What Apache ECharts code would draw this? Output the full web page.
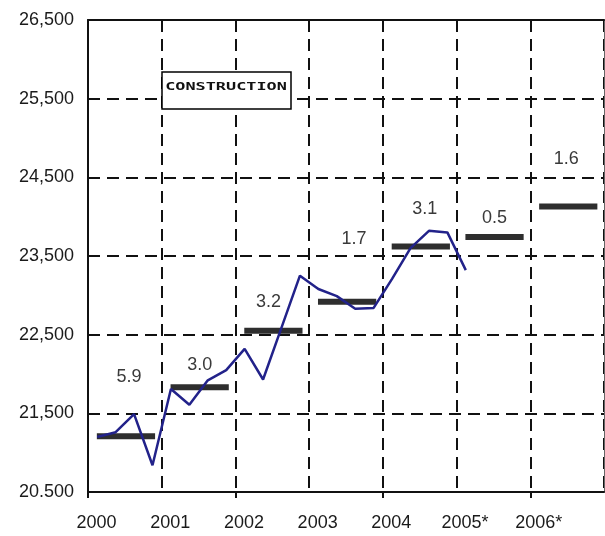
<!DOCTYPE html>
<html>
<head>
<meta charset="utf-8">
<script src="https://cdn.jsdelivr.net/npm/echarts@6/dist/echarts.min.js"></script>
<style>
  html, body { margin: 0; padding: 0; background: #fff; }
  #chart { width: 605px; height: 536px; }
</style>
</head>
<body>
<div id="chart"></div>
<script>
// Year labels along the bottom axis (2005, 2006 are forecasts)
const firstYear = 2000;
const yearLabels = ['2000', '2001', '2002', '2003', '2004', '2005*', '2006*'];

// Value axis ticks and their printed labels
const valueTicks = [20500, 21500, 22500, 23500, 24500, 25500, 26500];
const valueTickLabels = ['20.500', '21,500', '22,500', '23,500', '24,500', '25,500', '26,500'];

// Quarterly construction output, 2000 Q1 to 2005 Q1
const quarterlyValues = [
  21200, 21260, 21490, 20840,
  21810, 21610, 21920, 22050,
  22320, 21930, 22590, 23250,
  23080, 22990, 22830, 22840,
  23210, 23600, 23820, 23800,
  23320
];

// Annual averages, 2000 to 2006
const annualValues = [21210, 21830, 22550, 22920, 23620, 23740, 24130];

// Annual growth, %
const growthLabels = ['5.9', '3.0', '3.2', '1.7', '3.1', '0.5', '1.6'];

// Where each growth figure sits, in px from the middle of its annual bar
const growthLabelOffsets = [[3, -59], [0, -22], [-5, -29], [7, -63], [4, -38], [0, -19], [-2, -47]];

const INK = '#111';
const FONT = '"Liberation Sans", Arial, sans-serif';
const dashed = { color: INK, width: 2, type: [12, 7] };

const chart = echarts.init(document.getElementById('chart'), null, { renderer: 'canvas' });

chart.setOption({
  animation: false,
  backgroundColor: '#fff',
  grid: { left: 88, right: 1, top: 20, bottom: 44, outerBoundsMode: 'none' },
  xAxis: [
    {
      type: 'value', min: firstYear, max: firstYear + yearLabels.length, interval: 1,
      position: 'bottom',
      axisLine: { show: true, onZero: false, lineStyle: { color: INK, width: 2 } },
      axisTick: { show: false },
      axisLabel: {
        formatter: v => yearLabels[Math.round(v - firstYear)] || '',
        showMaxLabel: false,
        fontFamily: FONT, fontSize: 18, color: '#1a1a1a',
        margin: 22, padding: [0, 0, 0, 17]
      },
      splitLine: { show: true, lineStyle: dashed }
    },
    {
      // tick marks every second year below the axis
      type: 'value', min: firstYear, max: firstYear + yearLabels.length,
      position: 'bottom',
      axisLine: { show: false },
      axisLabel: { show: false },
      splitLine: { show: false },
      axisTick: {
        show: true, inside: false, length: 6,
        lineStyle: { color: INK, width: 2 },
        customValues: [2000, 2002, 2004, 2006]
      }
    },
    {
      type: 'value', min: firstYear, max: firstYear + yearLabels.length,
      position: 'top',
      axisLine: { show: true, onZero: false, lineStyle: { color: INK, width: 2 } },
      axisTick: { show: false }, axisLabel: { show: false }, splitLine: { show: false }
    }
  ],
  yAxis: [
    {
      type: 'value', min: valueTicks[0], max: valueTicks[valueTicks.length - 1],
      position: 'left',
      axisLine: { show: true, onZero: false, lineStyle: { color: INK, width: 2 } },
      axisTick: { show: false, customValues: valueTicks },
      axisLabel: {
        customValues: valueTicks,
        formatter: v => valueTickLabels[valueTicks.indexOf(v)] || '',
        fontFamily: FONT, fontSize: 18, color: '#1a1a1a', margin: 14,
        padding: [4, 0, 0, 0]
      },
      splitLine: { show: true, lineStyle: dashed }
    },
    {
      type: 'value', min: valueTicks[0], max: valueTicks[valueTicks.length - 1],
      position: 'right',
      axisLine: { show: true, onZero: false, lineStyle: { color: '#666', width: 1 } },
      axisTick: { show: false }, axisLabel: { show: false }, splitLine: { show: false }
    }
  ],
  series: [
    {
      // annual average bars with growth figures
      type: 'custom',
      xAxisIndex: 0, yAxisIndex: 0,
      data: annualValues.map((v, i) => [firstYear + i, v]),
      encode: { x: 0, y: 1 },
      z: 2,
      renderItem: (params, api) => {
        const yr = api.value(0);
        const v = api.value(1);
        const p0 = api.coord([yr + 0.12, v]);
        const p1 = api.coord([yr + 0.91, v]);
        const i = params.dataIndex;
        const off = growthLabelOffsets[i];
        const cx = (p0[0] + p1[0]) / 2;
        return {
          type: 'group',
          children: [
            {
              type: 'line',
              shape: { x1: p0[0], y1: p0[1], x2: p1[0], y2: p1[1] },
              style: { stroke: '#2e2e2e', lineWidth: 6 }
            },
            {
              type: 'text',
              style: {
                text: growthLabels[i],
                x: cx + off[0], y: p0[1] + off[1],
                align: 'center', verticalAlign: 'middle',
                font: '18px ' + FONT, fill: '#3a3a3a'
              }
            }
          ]
        };
      }
    },
    {
      // quarterly series, points at mid-quarter
      type: 'line',
      xAxisIndex: 0, yAxisIndex: 0,
      data: quarterlyValues.map((v, i) => [firstYear + (i + 0.5) / 4, v]),
      symbol: 'none',
      lineStyle: { color: '#22228a', width: 2.5 },
      z: 3
    }
  ],
  graphic: [
    {
      type: 'rect',
      shape: { x: 162, y: 72, width: 129, height: 37 },
      style: { fill: '#fff', stroke: '#000', lineWidth: 1.5 },
      z: 100
    },
    {
      type: 'text',
      x: 226, y: 87,
      scaleX: 1.53,
      style: {
        text: 'CONSTRUCTION',
        font: 'bold 11px "DejaVu Sans Mono", monospace',
        align: 'center', verticalAlign: 'middle',
        fill: '#111'
      },
      z: 101
    }
  ]
});
</script>
</body>
</html>
